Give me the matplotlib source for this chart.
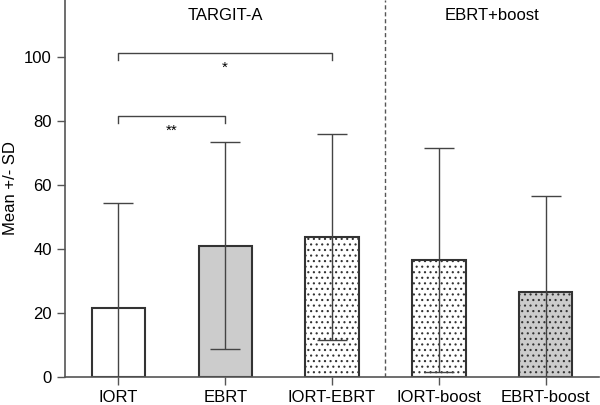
import matplotlib
matplotlib.use('Agg')
from matplotlib import pyplot as plt

plt.rcParams['font.family'] = ['Liberation Sans', 'DejaVu Sans']
plt.rcParams['hatch.color'] = '#444444'
plt.rcParams['hatch.linewidth'] = 0.8

groups = ['IORT', 'EBRT', 'IORT-EBRT', 'IORT-boost', 'EBRT-boost']
means = [21.5, 41.0, 43.8, 36.5, 26.7]
sds = [33.0, 32.3, 32.2, 35.0, 29.8]
fills = ['white', '#cccccc', 'white', 'white', '#cccccc']
hatches = ['', '', '...', '...', '...']
panel_titles = ['TARGIT-A', 'EBRT+boost']

edge = '#333333'

fig = plt.figure(figsize=(6, 4.05), dpi=100)
ax = fig.add_axes([65 / 600, 28 / 405, 534 / 600, 377 / 405])

x = list(range(len(groups)))
for xi, m, s, fc, h in zip(x, means, sds, fills, hatches):
    ax.bar(xi, m, width=0.5, color=fc, edgecolor=edge, linewidth=1.5, hatch=h, zorder=2)
    ax.errorbar(xi, m, yerr=s, fmt='none', ecolor='#444444', elinewidth=1.0,
                capsize=11, capthick=1.0, zorder=3)

ax.set_xlim(-0.5, 4.5)
ax.set_ylim(0, 117.8)
ax.set_yticks([0, 20, 40, 60, 80, 100])
ax.set_xticks(x)
ax.set_xticklabels(groups, fontsize=12)
ax.tick_params(axis='y', labelsize=12, length=6, width=1.0, color='#555555')
ax.tick_params(axis='x', length=6, width=1.0, color='#555555')
ax.set_ylabel('Mean +/- SD', fontsize=12)
for sp in ['top', 'right']:
    ax.spines[sp].set_visible(False)
for sp in ['left', 'bottom']:
    ax.spines[sp].set_color('#555555')
    ax.spines[sp].set_linewidth(1.2)

ax.axvline(2.5, color='#555555', linestyle=(0, (3, 2)), linewidth=1.0)

# significance brackets
def bracket(x0, x1, y, label):
    ax.plot([x0, x0, x1, x1], [y - 2, y, y, y - 2], color='#444444', lw=1.0, clip_on=False)
    ax.text((x0 + x1) / 2, y - 4.5, label, ha='center', va='center', fontsize=11)

bracket(0, 2, 101.2, '*')
bracket(0, 1, 81.5, '**')

ax.text(1, 113, panel_titles[0], ha='center', va='center', fontsize=12)
ax.text(3.5, 113, panel_titles[1], ha='center', va='center', fontsize=12)

fig.savefig('out.png', dpi=100)
